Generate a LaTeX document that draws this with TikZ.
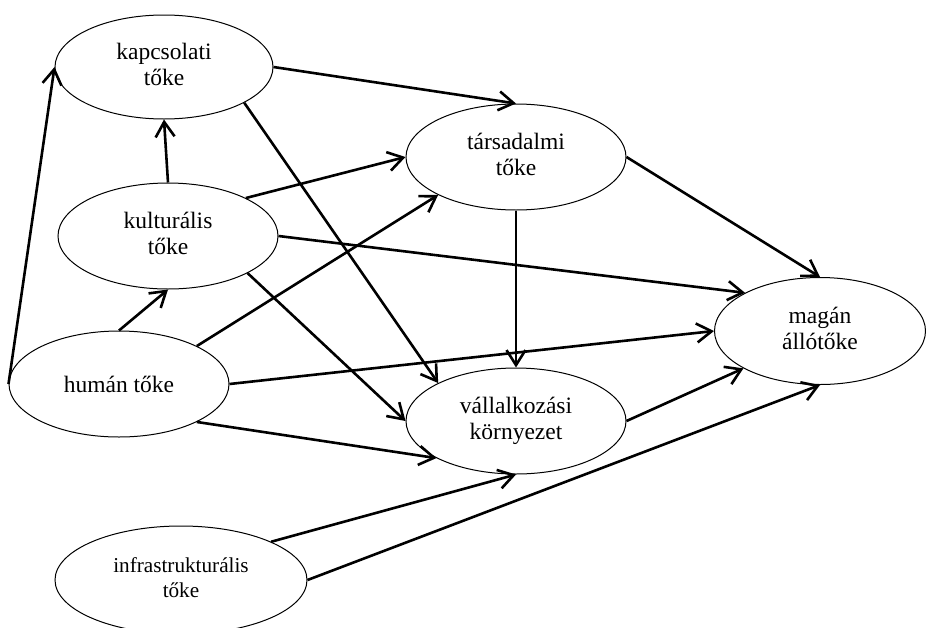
\documentclass[tikz,border=0pt]{standalone}
\usepackage{fontspec}
\setmainfont{Liberation Serif}
\usetikzlibrary{arrows.meta,shapes.geometric}
\newcommand{\twolines}[2]{\raisebox{-3pt}{\begin{tabular}{@{}c@{}}#1\\#2\end{tabular}}}
\begin{document}
\begin{tikzpicture}[x=1pt,y=-1pt,
  factor/.style={ellipse,draw=black,line width=1pt,inner sep=0pt,
    font=\fontsize{23.5}{26.5}\selectfont,fill=white},
  link/.style={line width=2.6pt,-{Straight Barb[length=15pt,width=19pt,line width=2.6pt]}}]
\useasboundingbox (0,0) rectangle (926,627);
\node[factor,minimum width=218pt,minimum height=104pt] (kap) at (164,67) {\twolines{kapcsolati}{tőke}};
\node[factor,minimum width=220pt,minimum height=106pt] (kul) at (168,236) {\twolines{kulturális}{tőke}};
\node[factor,minimum width=220pt,minimum height=106pt] (hum) at (119,384) {humán tőke};
\node[factor,minimum width=252pt,minimum height=108pt,font=\fontsize{21.2}{25}\selectfont] (inf) at (181,580) {\twolines{infrastrukturális}{tőke}};
\node[factor,minimum width=220pt,minimum height=106pt] (tar) at (516,157) {\twolines{társadalmi}{tőke}};
\node[factor,minimum width=220pt,minimum height=106pt] (val) at (516,421) {\twolines{vállalkozási}{környezet}};
\node[factor,minimum width=211pt,minimum height=107pt] (mag) at (820,331) {\twolines{magán}{állótőke}};

\draw[link] (hum.west) -- (kap.west);
\draw[link] (kul.north) -- (kap.south);
\draw[link] (hum.north) -- (kul.south);
\draw[link] (kap.east) -- (tar.north);
\draw[link] (kap.-24.8) -- (val.154.3);
\draw[link] (kul.26.3) -- (tar.west);
\draw[link] (kul.east) -- (mag.153.1);
\draw[link] (kul.-25.1) -- (val.west);
\draw[link] (hum.26.3) -- (tar.206);
\draw[link] (hum.east) -- (mag.west);
\draw[link] (hum.-26) -- (val.205.7);
\draw[link] (tar.south) -- (val.north);
\draw[link] (tar.east) -- (mag.north);
\draw[link] (val.east) -- (mag.206.9);
\draw[link] (inf.23.4) -- (val.south);
\draw[link] (inf.east) -- (mag.south);
\end{tikzpicture}
\end{document}
